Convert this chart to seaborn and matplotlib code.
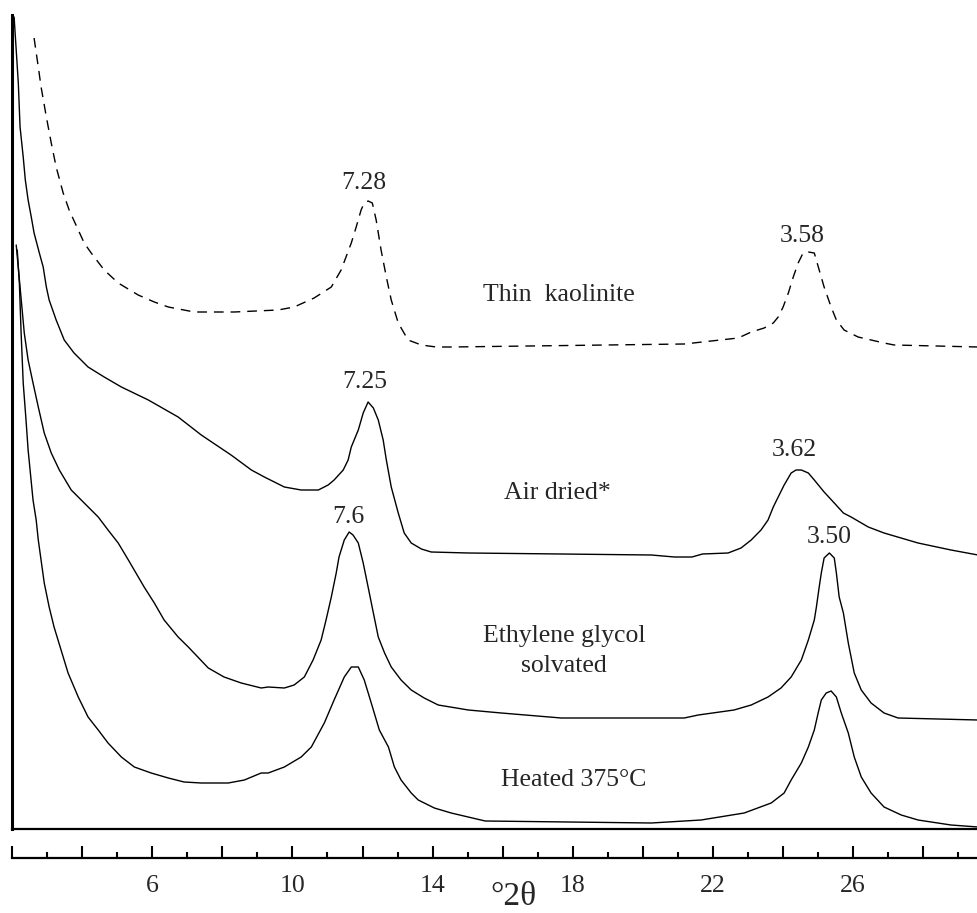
import numpy as np
import pandas as pd
import matplotlib
matplotlib.use("Agg")
import matplotlib.pyplot as plt
from matplotlib.ticker import MultipleLocator, FuncFormatter
import seaborn as sns

# ---- data (°2θ, relative intensity) ----
kaol_x = [2.63, 2.75, 2.83, 2.98, 3.12, 3.26, 3.46, 3.63, 3.89, 4.06, 4.26, 4.63, 5.03, 5.60,
          6.06, 6.46, 7.20, 8.34, 9.59, 10.05, 10.62, 11.11, 11.39, 11.68, 11.82, 11.96, 12.05,
          12.16, 12.28, 12.39, 12.53, 12.68, 12.82, 13.02, 13.30, 13.68, 14.10, 14.53, 21.18,
          22.72, 23.09, 23.46, 23.72, 23.86, 24.00, 24.15, 24.29, 24.43, 24.57, 24.72, 24.89,
          25.03, 25.17, 25.37, 25.52, 25.74, 26.14, 26.51, 26.88, 27.17, 29.56]
kaol_y = [791, 762, 742, 712, 686, 662, 636, 619, 599, 586, 576, 559, 546, 534,
          527, 522, 517, 517, 519, 522, 531, 542, 559, 586, 602, 619, 626,
          628, 626, 609, 579, 552, 529, 506, 489, 484, 482, 482, 485,
          491, 497, 501, 506, 512, 522, 536, 552, 566, 576, 577, 576,
          559, 542, 522, 509, 499, 492, 489, 486, 484, 482]

air_x = [2.06, 2.12, 2.18, 2.23, 2.32, 2.38, 2.46, 2.55, 2.63, 2.78, 2.89, 2.98, 3.06, 3.26,
         3.49, 3.77, 4.17, 4.63, 5.12, 5.89, 6.74, 7.40, 8.25, 8.83, 9.20, 9.77, 10.25, 10.74,
         11.02, 11.19, 11.45, 11.59, 11.68, 11.88, 12.02, 12.16, 12.31, 12.45, 12.59, 12.68,
         12.82, 13.02, 13.19, 13.39, 13.68, 13.96, 15.02, 17.67, 20.24, 20.90, 21.40, 21.70,
         22.43, 22.80, 23.09, 23.37, 23.57, 23.72, 23.86, 24.03, 24.23, 24.37, 24.52, 24.72,
         24.89, 25.17, 25.46, 25.72, 25.94, 26.43, 26.88, 27.85, 28.79, 29.56]
air_y = [812, 779, 746, 702, 672, 649, 629, 612, 596, 576, 562, 542, 529, 509,
         489, 476, 462, 452, 442, 429, 412, 394, 374, 359, 352, 342, 339, 339,
         344, 349, 359, 369, 382, 399, 416, 427, 421, 409, 389, 369,
         342, 316, 296, 286, 280, 277, 276, 275, 274, 272, 272, 275,
         276, 281, 289, 299, 309, 322, 332, 344, 356, 359, 359, 356,
         349, 337, 326, 316, 312, 302, 296, 286, 279, 274]

eg_x = [2.12, 2.35, 2.46, 2.60, 2.75, 2.92, 3.12, 3.35, 3.69, 4.06, 4.46, 4.74, 5.03, 5.32,
        5.77, 6.06, 6.34, 6.74, 7.03, 7.60, 8.05, 8.54, 9.11, 9.31, 9.77, 10.05, 10.34, 10.59,
        10.82, 10.96, 11.11, 11.25, 11.33, 11.48, 11.62, 11.73, 11.88, 12.02, 12.16, 12.31,
        12.45, 12.63, 12.82, 13.10, 13.39, 13.76, 14.16, 15.02, 15.96, 17.67, 21.18, 21.58,
        22.60, 23.09, 23.57, 23.94, 24.23, 24.52, 24.72, 24.89, 24.95, 25.03, 25.09, 25.17,
        25.32, 25.46, 25.52, 25.60, 25.72, 25.86, 26.03, 26.23, 26.51, 26.88, 27.28, 29.56]
eg_y = [584, 496, 469, 446, 422, 396, 376, 359, 339, 326, 312, 299, 286, 269,
        242, 226, 209, 192, 182, 161, 152, 146, 141, 142, 141, 144, 152, 169,
        189, 209, 232, 256, 272, 289, 297, 294, 286, 266, 242, 216,
        192, 176, 162, 149, 139, 131, 124, 119, 116, 111, 111, 114,
        119, 124, 132, 141, 152, 169, 189, 209, 222, 242, 256, 271,
        276, 271, 256, 232, 216, 186, 156, 139, 126, 116, 111, 109]

heat_x = [2.15, 2.21, 2.26, 2.32, 2.40, 2.46, 2.60, 2.69, 2.75, 2.92, 3.06, 3.20, 3.40, 3.60,
          3.89, 4.17, 4.46, 4.74, 5.12, 5.49, 5.97, 6.46, 6.91, 7.40, 8.17, 8.63, 9.11, 9.31,
          9.77, 10.25, 10.54, 10.91, 11.19, 11.48, 11.68, 11.88, 12.05, 12.25, 12.48, 12.74,
          12.91, 13.10, 13.39, 13.59, 14.05, 14.53, 15.50, 20.24, 21.66, 22.89, 23.66, 24.03,
          24.23, 24.52, 24.72, 24.89, 25.00, 25.09, 25.23, 25.37, 25.52, 25.66, 25.86, 26.03,
          26.23, 26.51, 26.88, 27.37, 27.85, 28.79, 29.56]
heat_y = [579, 546, 496, 446, 409, 379, 329, 309, 289, 246, 222, 202, 179, 156,
          132, 112, 99, 86, 72, 62, 56, 51, 47, 46, 46, 49, 56, 56,
          62, 72, 82, 106, 129, 152, 162, 162, 149, 126, 99, 82,
          62, 49, 36, 29, 21, 16, 8, 6, 9, 16, 26, 36,
          49, 66, 82, 99, 116, 129, 136, 138, 132, 116, 96, 72,
          52, 36, 22, 14, 9, 4, 2]

# annotations: text, x (°2θ), y
peak_labels = ["7.28", "3.58", "7.25", "3.62", "7.6", "3.50"]
peak_lx = [12.03, 24.54, 12.05, 24.31, 11.59, 25.31]
peak_ly = [646, 593, 447, 379, 312, 292]

sample_labels = ["Thin  kaolinite", "Air dried*", "Ethylene glycol\nsolvated", "Heated 375°C"]
sample_lx = [17.61, 17.55, 17.75, 18.03]
sample_ly = [534, 336, 178, 49]

axis_tick_labels = [6, 10, 14, 18, 22, 26]

# ---- figure ----
sns.set_style("white")
plt.rcParams["font.family"] = ["Liberation Serif", "DejaVu Serif"]

W, H = 977, 913
fig = plt.figure(figsize=(W / 100, H / 100), dpi=100)
left_px, right_px = 12, 977
bot_px, top_px = 829, 15
ax = fig.add_axes([left_px / W, (H - bot_px) / H, (right_px - left_px) / W, (bot_px - top_px) / H])
xmin, xmax = 2.0, 2.0 + (right_px - left_px) / 35.05
ax.set_xlim(xmin, xmax)
ax.set_ylim(0, bot_px - top_px)

sns.lineplot(x=kaol_x, y=kaol_y, ax=ax, color="black", lw=1.0, linestyle=(0, (7, 5)),
             estimator=None, sort=False)
for xs, ys in [(air_x, air_y), (eg_x, eg_y), (heat_x, heat_y)]:
    sns.lineplot(x=xs, y=ys, ax=ax, color="black", lw=1.0, estimator=None, sort=False)

for spine in ["top", "right"]:
    ax.spines[spine].set_visible(False)
ax.spines["left"].set_linewidth(2.2)
ax.spines["bottom"].set_linewidth(1.6)
ax.spines["left"].set_color("black")
ax.spines["bottom"].set_color("black")
ax.set_xticks([])
ax.set_yticks([])
ax.set_xlabel("")
ax.set_ylabel("")

fs = 18.5
for t, x, y in zip(peak_labels, peak_lx, peak_ly):
    ax.text(x, y, t, ha="center", va="center", fontsize=fs)
for t, x, y in zip(sample_labels, sample_lx, sample_ly):
    ax.text(x, y, t, ha="center", va="center", fontsize=fs, multialignment="center",
            linespacing=1.45)

# ---- separate 2θ ruler ----
ruler_px = 858
ax2 = fig.add_axes([left_px / W, (H - ruler_px) / H, (right_px - left_px) / W, 0.001])
ax2.set_xlim(xmin, xmax)
for spine in ["top", "right", "left"]:
    ax2.spines[spine].set_visible(False)
ax2.spines["bottom"].set_linewidth(1.6)
ax2.spines["bottom"].set_color("black")
ax2.set_yticks([])
ax2.xaxis.set_major_locator(MultipleLocator(2))
ax2.xaxis.set_minor_locator(MultipleLocator(1))
ax2.xaxis.set_major_formatter(FuncFormatter(
    lambda v, p: f"{int(round(v))}" if int(round(v)) in axis_tick_labels else ""))
ax2.tick_params(axis="x", which="both", bottom=True, top=False, direction="in", width=1.5,
                color="black")
ax2.tick_params(axis="x", which="major", length=8.6, labelsize=fs, pad=12)
ax2.tick_params(axis="x", which="minor", length=4.3)
ax2.set_facecolor("none")

fig.text(513 / W, (H - 897) / H, "°2θ", ha="center", va="center", fontsize=24)

fig.savefig("out.png", dpi=100)
